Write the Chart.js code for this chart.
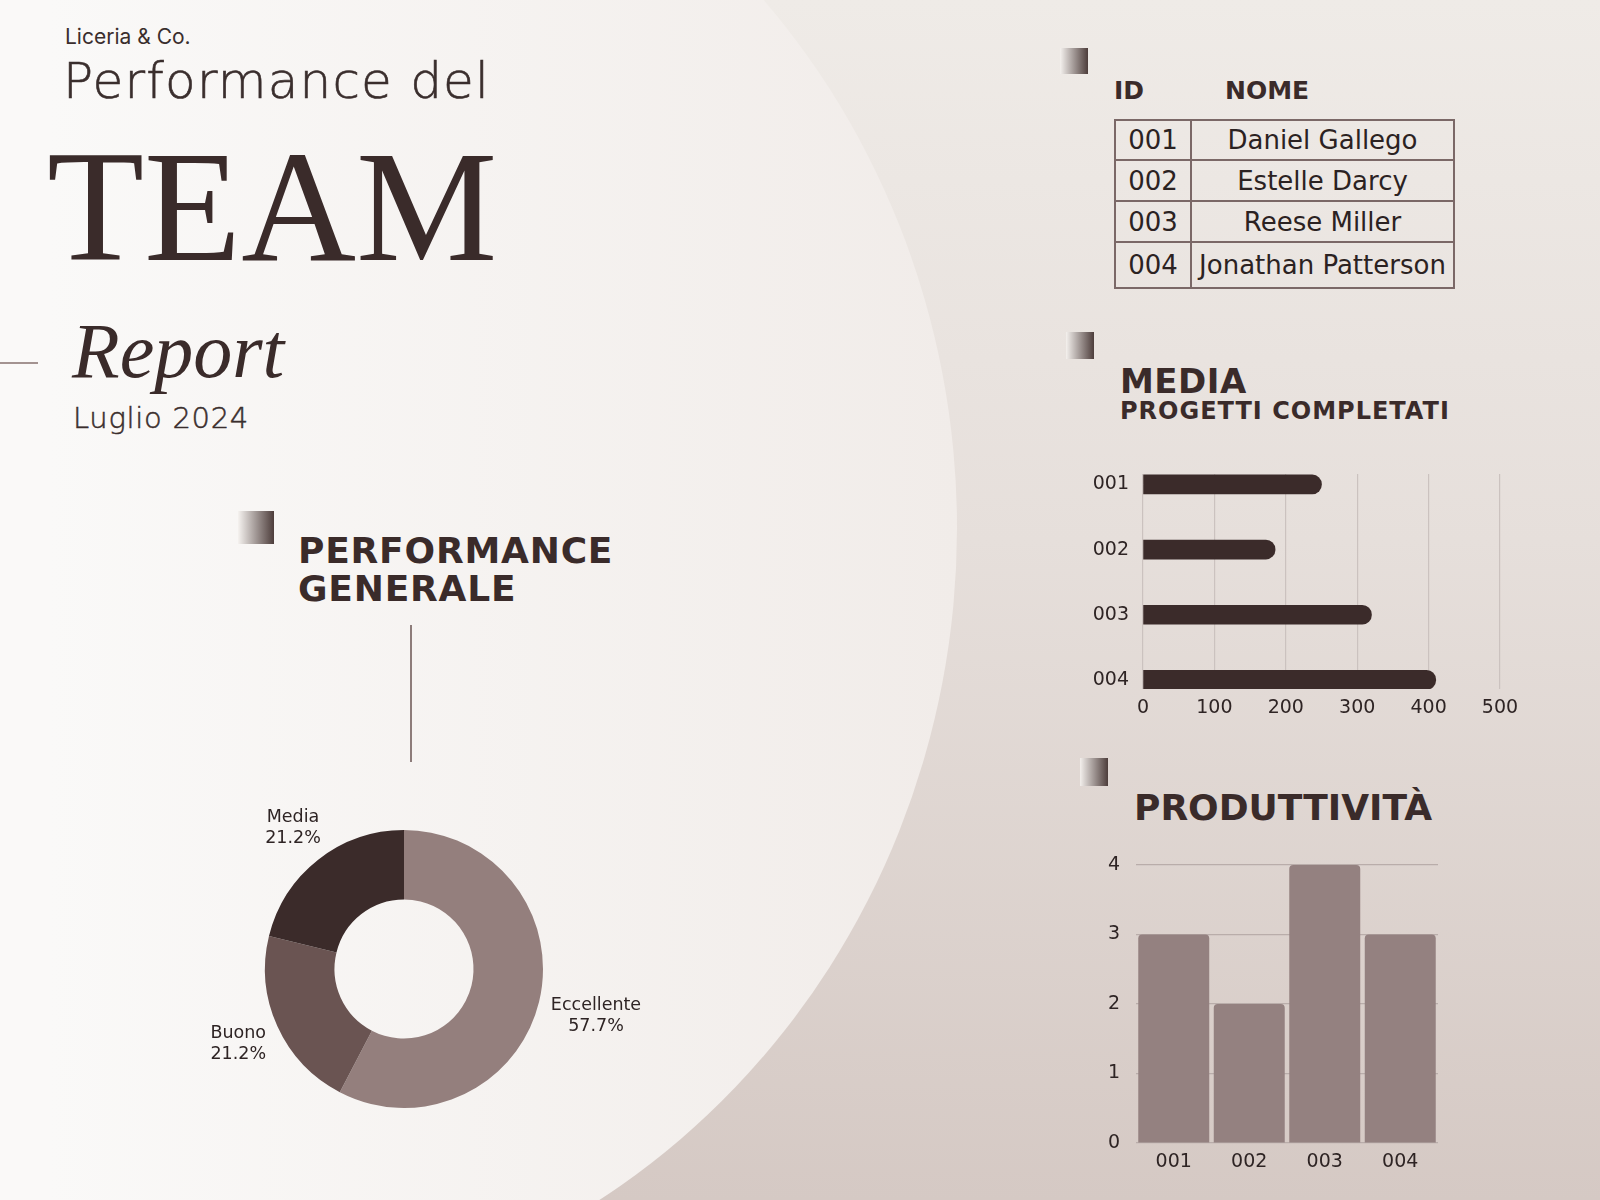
<!DOCTYPE html>
<html lang="it">
<head>
<meta charset="utf-8">
<title>Performance del Team - Report Luglio 2024</title>
<script src="https://cdn.jsdelivr.net/npm/chart.js@4.4.1/dist/chart.umd.min.js"></script>
<style>
  html, body { margin: 0; padding: 0; }
  body {
    width: 1600px; height: 1200px; position: relative; overflow: hidden;
    background: linear-gradient(to bottom, #efebe7 0%, #e6dfdb 45%, #d5c9c4 100%);
    font-family: "DejaVu Sans", sans-serif; color: #3a2b2a;
  }
  .blob {
    position: absolute; left: -557px; top: -263px; width: 1514px; height: 1582px;
    border-radius: 50%;
    background: linear-gradient(to right, #faf9f8 40%, #f1ece9 100%);
  }
  .t { position: absolute; white-space: nowrap; line-height: 1; }
  .mark {
    position: absolute;
    background: linear-gradient(to right, rgba(245,242,239,0.9), #4d3d3b);
  }
  .bold { font-weight: bold; }
  #teamTable {
    position: absolute; left: 1114px; top: 119px; width: 341px;
    border-collapse: collapse; font-size: 26px; color: #2b2222;
  }
  #teamTable td { border: 2px solid #7b6867; text-align: center; padding: 0; }
  canvas { position: absolute; }
</style>
</head>
<body>
<div class="blob"></div>

<div class="t" style="left:65px; top:26px; font-family:Inter, sans-serif; font-size:21px; color:#3a2e2d;">Liceria &amp; Co.</div>
<div class="t" style="left:63px; top:56px; font-size:50px; font-weight:300; letter-spacing:1.2px; color:#3a2e2d; -webkit-text-stroke:0.6px #3a2e2d;">Performance del</div>
<div class="t" style="left:47px; top:127px; font-family:'Liberation Serif', serif; font-size:159px; color:#3a2b2a;">TEAM</div>
<div style="position:absolute; left:0; top:362px; width:38px; height:1.5px; background:#a39391;"></div>
<div class="t" style="left:72px; top:312px; font-family:'Liberation Serif', serif; font-style:italic; font-size:78px; color:#3a2b2a;">Report</div>
<div class="t" style="left:73px; top:404px; font-size:29px; font-weight:300; letter-spacing:0.7px; color:#3a2e2d; -webkit-text-stroke:0.5px #3a2e2d;">Luglio 2024</div>

<div class="mark" style="left:238px; top:511px; width:36px; height:33px;"></div>
<div class="t bold" style="left:298px; top:532px; font-size:36px; line-height:38px; letter-spacing:0.8px; white-space:normal;">PERFORMANCE<br>GENERALE</div>
<div style="position:absolute; left:410px; top:625px; width:2px; height:137px; background:#8d7c7a;"></div>

<div class="mark" style="left:1060px; top:48px; width:28px; height:26px;"></div>
<div class="t bold" style="left:1114px; top:78px; font-size:25px;">ID</div>
<div class="t bold" style="left:1225px; top:78px; font-size:25px;">NOME</div>
<table id="teamTable"></table>

<div class="mark" style="left:1066px; top:332px; width:28px; height:27px;"></div>
<div class="t bold" style="left:1120px; top:364px; font-size:34px; letter-spacing:0.5px;">MEDIA</div>
<div class="t bold" style="left:1120px; top:399px; font-size:24px; letter-spacing:1px;">PROGETTI COMPLETATI</div>

<div class="mark" style="left:1080px; top:758px; width:28px; height:28px;"></div>
<div class="t bold" style="left:1134px; top:790px; font-size:36px;">PRODUTTIVITÀ</div>

<canvas id="perfChart" width="500" height="400" style="left:154px; top:769px; width:500px; height:400px;"></canvas>
<canvas id="mediaChart" width="480" height="300" style="left:1040px; top:440px; width:480px; height:300px;"></canvas>
<canvas id="prodChart" width="400" height="350" style="left:1060px; top:830px; width:400px; height:350px;"></canvas>

<script>
// dati
var perfLabels = ['Eccellente', 'Buono', 'Media'];
var perfValues = [57.7, 21.2, 21.2];
var perfColors = ['#947f7d', '#6a5452', '#3b2b2a'];

var teamIds = ['001', '002', '003', '004'];
var teamNames = ['Daniel Gallego', 'Estelle Darcy', 'Reese Miller', 'Jonathan Patterson'];

var progettiCompletati = [250, 185, 320, 410];
var progettiTicks = [0, 100, 200, 300, 400, 500];

var produttivita = [3, 2, 4, 3];

var textColor = '#2e2424';
Chart.defaults.font.family = '"DejaVu Sans", sans-serif';
Chart.defaults.color = textColor;

// tabella
var rowHeights = [40, 41, 41, 46];
var table = document.getElementById('teamTable');
teamIds.forEach(function (id, i) {
	var tr = document.createElement('tr');
	tr.style.height = rowHeights[i] + 'px';
	var td1 = document.createElement('td');
	td1.style.width = '74px';
	td1.textContent = id;
	var td2 = document.createElement('td');
	td2.textContent = teamNames[i];
	tr.appendChild(td1);
	tr.appendChild(td2);
	table.appendChild(tr);
});

// etichette esterne della ciambella
var outerLabels = {
	id: 'outerLabels',
	afterDatasetsDraw: function (chart) {
		var ctx = chart.ctx;
		var meta = chart.getDatasetMeta(0);
		ctx.save();
		ctx.font = '17.5px "DejaVu Sans"';
		ctx.fillStyle = textColor;
		ctx.textAlign = 'center';
		ctx.textBaseline = 'middle';
		meta.data.forEach(function (arc, i) {
			var p = arc.getProps(['x', 'y', 'startAngle', 'endAngle', 'outerRadius'], true);
			var mid = (p.startAngle + p.endAngle) / 2;
			var dx = Math.cos(mid), dy = Math.sin(mid);
			var l1 = chart.data.labels[i];
			var l2 = chart.data.datasets[0].data[i].toFixed(1) + '%';
			var w = Math.max(ctx.measureText(l1).width, ctx.measureText(l2).width);
			var h = 32;
			var r = p.outerRadius + 11 + Math.abs(dx) * w / 2 + Math.abs(dy) * h / 2;
			var cx = p.x + dx * r, cy = p.y + dy * r;
			ctx.fillText(l1, cx, cy - 10.5);
			ctx.fillText(l2, cx, cy + 10.5);
		});
		ctx.restore();
	}
};

var perfChart = new Chart(document.getElementById('perfChart'), {
	type: 'doughnut',
	data: {
		labels: perfLabels,
		datasets: [{
			data: perfValues,
			backgroundColor: perfColors,
			borderWidth: 0,
			hoverOffset: 0,
			offset: 0
		}]
	},
	options: {
		responsive: false,
		animation: false,
		events: [],
		radius: 139,
		cutout: '50%',
		plugins: { legend: { display: false }, tooltip: { enabled: false } }
	},
	plugins: [outerLabels]
});

// media progetti completati (barre orizzontali)
var mediaChart = new Chart(document.getElementById('mediaChart'), {
	type: 'bar',
	data: {
		datasets: [{
			data: progettiCompletati.map(function (v, i) { return { x: v, y: i }; }),
			backgroundColor: '#3b2b2a',
			borderRadius: 10,
			borderSkipped: 'start',
			barThickness: 19
		}]
	},
	options: {
		indexAxis: 'y',
		responsive: false,
		animation: false,
		events: [],
		layout: { padding: { top: 34, right: 20, bottom: 21, left: 0 } },
		plugins: { legend: { display: false }, tooltip: { enabled: false } },
		scales: {
			x: {
				type: 'linear',
				min: progettiTicks[0],
				max: progettiTicks[progettiTicks.length - 1],
				afterBuildTicks: function (scale) {
					scale.ticks = progettiTicks.map(function (v) { return { value: v }; });
				},
				afterFit: function (scale) {
					scale.height = 30;
					scale.paddingLeft = 0;
					scale.paddingRight = 0;
				},
				grid: { color: '#cbc2bf', lineWidth: 1.2, drawTicks: false },
				border: { display: false },
				ticks: { padding: 8, font: { size: 19 }, color: textColor }
			},
			y: {
				type: 'linear',
				offset: false,
				reverse: true,
				min: -0.16,
				max: 3.14,
				afterBuildTicks: function (scale) {
					scale.ticks = teamIds.map(function (id, i) { return { value: i }; });
				},
				afterFit: function (scale) { scale.width = 103; },
				grid: { display: false, drawTicks: false, offset: false },
				border: { display: false },
				ticks: {
					padding: 14,
					font: { size: 19 },
					color: textColor,
					callback: function (v) { return teamIds[v]; }
				}
			}
		}
	}
});

// produttività (colonne)
var prodChart = new Chart(document.getElementById('prodChart'), {
	type: 'bar',
	data: {
		labels: teamIds,
		datasets: [{
			data: produttivita,
			backgroundColor: '#948180',
			borderRadius: 4,
			borderSkipped: 'start',
			barPercentage: 0.94,
			categoryPercentage: 1
		}]
	},
	options: {
		responsive: false,
		animation: false,
		events: [],
		layout: { padding: { top: 35, right: 22, bottom: 8, left: 0 } },
		plugins: { legend: { display: false }, tooltip: { enabled: false } },
		scales: {
			x: {
				grid: { display: false, drawTicks: false },
				border: { display: false },
				afterFit: function (scale) { scale.height = 29; },
				ticks: { padding: 8, font: { size: 19 }, color: textColor }
			},
			y: {
				min: 0,
				max: 4,
				ticks: { stepSize: 1, padding: 16, font: { size: 19 }, color: textColor },
				afterFit: function (scale) { scale.width = 76; },
				grid: { color: '#b9adaa', lineWidth: 1.2, drawTicks: false },
				border: { display: false }
			}
		}
	}
});
</script>
</body>
</html>
